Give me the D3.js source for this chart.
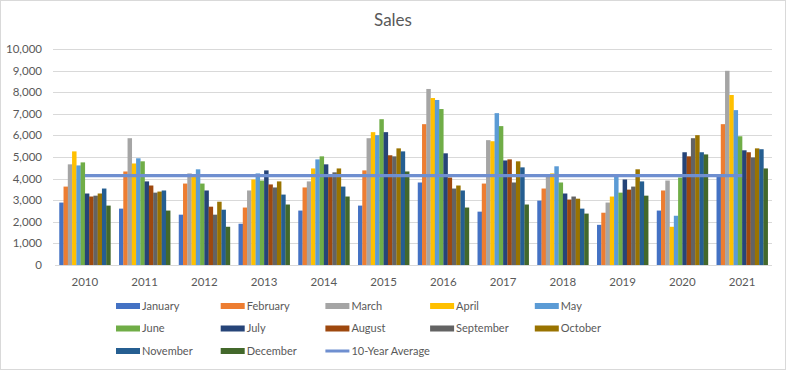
<!DOCTYPE html>
<html>
<head>
<meta charset="utf-8">
<script src="https://cdn.jsdelivr.net/npm/d3@7"></script>
<style>
  body { margin: 0; background: #fff; }
  svg { font-family: Lato, "Open Sans", sans-serif; }
</style>
</head>
<body>
<svg id="chart" width="786" height="370"></svg>
<script>
const years = ["2010", "2011", "2012", "2013", "2014", "2015", "2016", "2017", "2018", "2019", "2020", "2021"];
const months = ["January", "February", "March", "April", "May", "June", "July", "August", "September", "October", "November", "December"];
const january = [2890, 2610, 2330, 1910, 2520, 2750, 3820, 2470, 2980, 1860, 2520, 4100];
const february = [3630, 4330, 3770, 2660, 3590, 4380, 6520, 3770, 3540, 2420, 3450, 6520];
const march = [4660, 5870, 4240, 3450, 3870, 5870, 8150, 5780, 4150, 2890, 3910, 8990];
const april = [5260, 4700, 4100, 3960, 4470, 6150, 7730, 5730, 4240, 3170, 1770, 7870];
const may = [4610, 4940, 4430, 4240, 4890, 6010, 7640, 7030, 4570, 4150, 2280, 7170];
const june = [4750, 4800, 3770, 3910, 5030, 6750, 7220, 6430, 3820, 3350, 4050, 5960];
const july = [3310, 3870, 3450, 4380, 4660, 6150, 5170, 4840, 3310, 3960, 5220, 5310];
const august = [3170, 3680, 2700, 3730, 4100, 5080, 4050, 4890, 3030, 3490, 5030, 5220];
const september = [3210, 3350, 2330, 3590, 4290, 5030, 3540, 3820, 3170, 3630, 5870, 4980];
const october = [3310, 3400, 2930, 3870, 4470, 5400, 3680, 4800, 3070, 4430, 6010, 5400];
const november = [3540, 3450, 2560, 3260, 3630, 5260, 3450, 4520, 2610, 3870, 5220, 5360];
const december = [2750, 2520, 1770, 2800, 3170, 4330, 2660, 2800, 2380, 3210, 5120, 4470];
const tenYearAverage = [4140, 4140, 4140, 4140, 4140, 4140, 4140, 4140, 4140, 4140, 4140, 4140];
const yTicks = [0, 1000, 2000, 3000, 4000, 5000, 6000, 7000, 8000, 9000, 10000];

const series = [january, february, march, april, may, june, july, august, september, october, november, december];
const colors = ["#4472C4", "#ED7D31", "#A5A5A5", "#FFC000", "#5B9BD5", "#70AD47",
  "#264478", "#9E480E", "#636363", "#997300", "#255E91", "#43682B"];
const avgColor = "#6F8FD0";
const textColor = "#595959";

var svg = d3.select("#chart"),
  margin = { top: 49, right: 14, bottom: 105, left: 55 },
  width = +svg.attr("width") - margin.left - margin.right,
  height = +svg.attr("height") - margin.top - margin.bottom;

// chart border
svg.append("rect")
  .attr("x", 0.5).attr("y", 0.5)
  .attr("width", 785).attr("height", 369)
  .attr("fill", "#fff").attr("stroke", "#d9d9d9");

svg.append("text")
  .attr("x", 393).attr("y", 26)
  .attr("text-anchor", "middle")
  .attr("font-size", 17)
  .attr("fill", textColor)
  .text("Sales");

var x0 = d3.scaleBand().domain(years).range([0, width])
  .paddingInner(1 / 7).paddingOuter(1 / 14);
var x1 = d3.scaleBand().domain(months).range([0, x0.bandwidth()]);
var y = d3.scaleLinear().domain([0, 10000]).range([height, 0]);

var g = svg.append("g")
  .attr("transform", "translate(" + margin.left + "," + margin.top + ")");

// gridlines
g.append("g")
  .selectAll("line")
  .data(yTicks.slice(1))
  .enter()
  .append("line")
  .attr("x1", -2).attr("x2", width)
  .attr("y1", (d) => Math.round(y(d)) + 0.5)
  .attr("y2", (d) => Math.round(y(d)) + 0.5)
  .attr("stroke", "#d9d9d9");

// y labels
g.append("g")
  .selectAll("text")
  .data(yTicks)
  .enter()
  .append("text")
  .attr("x", -13)
  .attr("y", (d) => y(d))
  .attr("dy", "0.35em")
  .attr("text-anchor", "end")
  .attr("font-size", 11.5)
  .attr("fill", textColor)
  .text((d) => d3.format(",")(d));

// bars
var groups = g.selectAll(".year")
  .data(years)
  .enter()
  .append("g")
  .attr("class", "year")
  .attr("transform", (d) => "translate(" + x0(d) + ",0)");

groups.selectAll("rect")
  .data((d, i) => months.map((m, j) => ({ month: m, value: series[j][i], color: colors[j] })))
  .enter()
  .append("rect")
  .attr("x", (d) => x1(d.month))
  .attr("y", (d) => y(d.value))
  .attr("width", x1.bandwidth() + 0.2)
  .attr("height", (d) => height - y(d.value))
  .attr("fill", (d) => d.color);

// x axis line
g.append("line")
  .attr("x1", 0).attr("x2", width)
  .attr("y1", height + 0.5).attr("y2", height + 0.5)
  .attr("stroke", "#d9d9d9");

g.append("g")
  .selectAll("text")
  .data(years)
  .enter()
  .append("text")
  .attr("x", (d) => x0(d) + x0.bandwidth() / 2)
  .attr("y", height + 21)
  .attr("text-anchor", "middle")
  .attr("font-size", 11.5)
  .attr("fill", textColor)
  .text((d) => d);

// 10-year average line
var line = d3.line()
  .x((d, i) => x0(years[i]) + x0.bandwidth() / 2)
  .y((d) => y(d));

g.append("path")
  .datum(tenYearAverage)
  .attr("d", line)
  .attr("fill", "none")
  .attr("stroke", avgColor)
  .attr("stroke-width", 3.2);

// legend
var legendItems = months.map((m, i) => ({ name: m, color: colors[i], kind: "bar" }));
legendItems.push({ name: "10-Year Average", color: avgColor, kind: "line" });

var legend = svg.append("g")
  .selectAll("g")
  .data(legendItems)
  .enter()
  .append("g")
  .attr("transform", (d, i) => "translate(" + (116 + (i % 5) * 104.7) + "," + (306 + Math.floor(i / 5) * 22.5) + ")");

legend.append("rect")
  .attr("x", 0)
  .attr("y", (d) => (d.kind === "bar" ? -3 : -1.5))
  .attr("width", 24)
  .attr("height", (d) => (d.kind === "bar" ? 6 : 3))
  .attr("fill", (d) => d.color);

legend.append("text")
  .attr("x", 26)
  .attr("y", 0)
  .attr("dy", "0.35em")
  .attr("font-size", 11)
  .attr("fill", textColor)
  .text((d) => d.name);
</script>
</body>
</html>
